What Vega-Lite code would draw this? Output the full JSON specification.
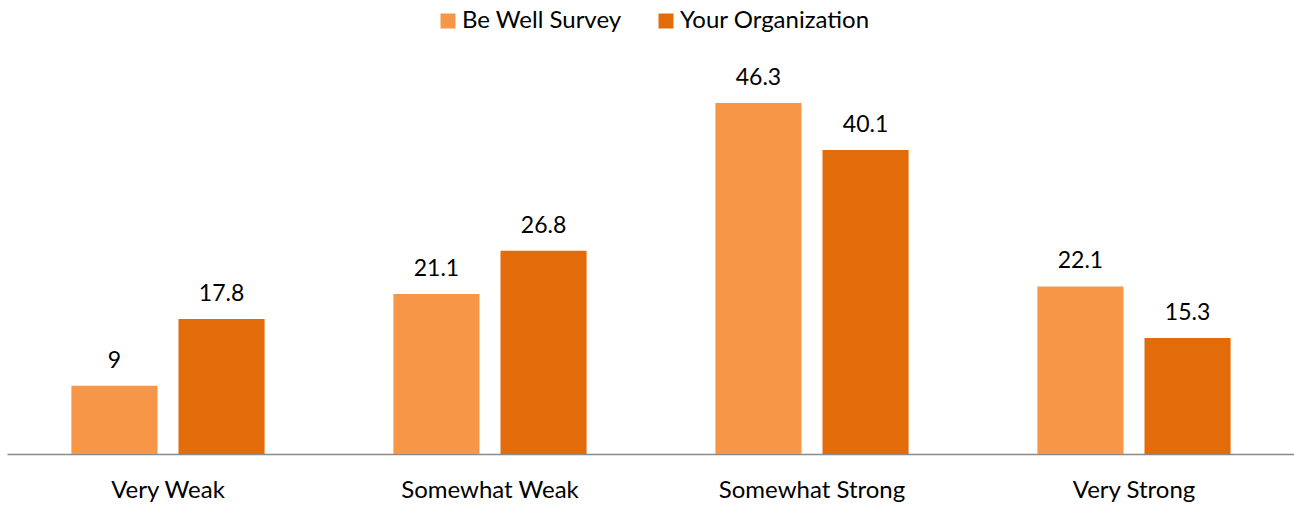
{
  "$schema": "https://vega.github.io/schema/vega-lite/v6.json",
  "width": 1288,
  "height": 379,
  "autosize": {"type": "none"},
  "padding": {"left": 7, "top": 75, "right": 0, "bottom": 52},
  "background": "white",
  "config": {"view": {"stroke": null}, "font": "Lato"},
  "data": {"values": [
    {"category": "Very Weak", "series": "Be Well Survey", "value": 9},
    {"category": "Very Weak", "series": "Your Organization", "value": 17.8},
    {"category": "Somewhat Weak", "series": "Be Well Survey", "value": 21.1},
    {"category": "Somewhat Weak", "series": "Your Organization", "value": 26.8},
    {"category": "Somewhat Strong", "series": "Be Well Survey", "value": 46.3},
    {"category": "Somewhat Strong", "series": "Your Organization", "value": 40.1},
    {"category": "Very Strong", "series": "Be Well Survey", "value": 22.1},
    {"category": "Very Strong", "series": "Your Organization", "value": 15.3}
  ]},
  "encoding": {
    "x": {
      "field": "category", "type": "nominal", "sort": null,
      "scale": {"paddingInner": 0.4, "paddingOuter": 0.2},
      "axis": {"title": null, "labelAngle": 0, "ticks": false, "domainColor": "#898989", "domainWidth": 1.5, "labelFontSize": 24, "labelColor": "#000000", "labelPadding": 24, "labelFont": "Lato", "labelLimit": 0}
    },
    "xOffset": {"field": "series", "type": "nominal", "sort": ["Be Well Survey", "Your Organization"], "scale": {"paddingInner": 0.196, "paddingOuter": 0}},
    "y": {"field": "value", "type": "quantitative", "scale": {"domain": [0, 50], "nice": false}, "axis": null}
  },
  "layer": [
    {
      "mark": {"type": "bar"},
      "encoding": {
        "color": {
          "field": "series", "type": "nominal",
          "scale": {"domain": ["Be Well Survey", "Your Organization"], "range": ["#F79646", "#E36C0A"]},
          "legend": {"title": null, "orient": "none", "legendX": 429, "legendY": -66, "direction": "horizontal", "symbolType": "square", "symbolSize": 225, "symbolStrokeWidth": 0, "labelFontSize": 24, "labelColor": "#000000", "labelOffset": 2, "columnPadding": 32, "labelFont": "Lato", "labelLimit": 0}
        }
      }
    },
    {
      "mark": {"type": "text", "dy": -18, "baseline": "alphabetic", "fontSize": 23, "color": "#000000", "font": "Lato"},
      "encoding": {"text": {"field": "value", "type": "quantitative"}}
    }
  ]
}
